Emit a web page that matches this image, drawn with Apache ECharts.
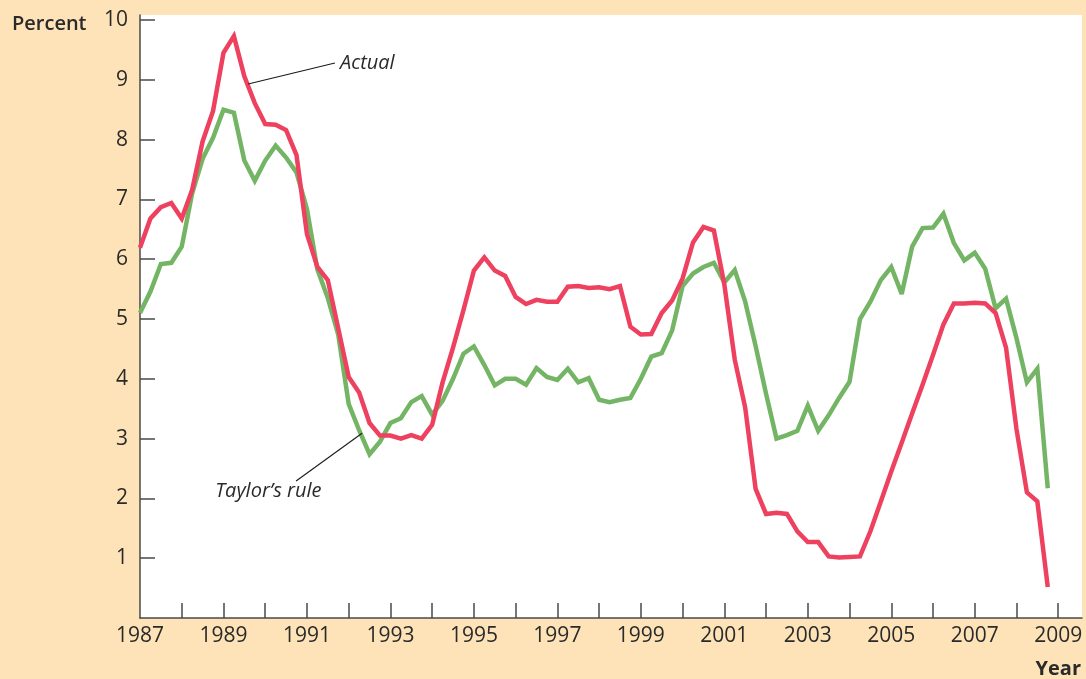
<!DOCTYPE html>
<html>
<head>
<meta charset="utf-8">
<title>Federal funds rate: actual vs. Taylor's rule</title>
<script src="https://cdn.jsdelivr.net/npm/echarts@6/dist/echarts.min.js"></script>
<style>
  html, body { margin: 0; padding: 0; background: #fde3b7; }
  #chart { width: 1086px; height: 679px; }
</style>
</head>
<body>
<div id="chart"></div>
<script>
// Quarterly observations, first quarter of 1987 through the last quarter of 2008
const startYear = 1987;

// Actual federal funds rate (percent)
const actualRate = [
  6.19, 6.68, 6.87, 6.94,   // 1987
  6.68, 7.16, 7.97, 8.48,   // 1988
  9.45, 9.73, 9.06, 8.61,   // 1989
  8.26, 8.25, 8.16, 7.74,   // 1990
  6.42, 5.87, 5.65, 4.84,   // 1991
  4.03, 3.77, 3.26, 3.05,   // 1992
  3.05, 3.00, 3.06, 3.00,   // 1993
  3.23, 3.94, 4.52, 5.15,   // 1994
  5.81, 6.03, 5.81, 5.72,   // 1995
  5.37, 5.25, 5.32, 5.29,   // 1996
  5.29, 5.54, 5.55, 5.52,   // 1997
  5.53, 5.50, 5.55, 4.87,   // 1998
  4.74, 4.75, 5.10, 5.31,   // 1999
  5.68, 6.28, 6.54, 6.48,   // 2000
  5.58, 4.32, 3.52, 2.16,   // 2001
  1.74, 1.76, 1.74, 1.45,   // 2002
  1.27, 1.27, 1.03, 1.01,   // 2003
  1.02, 1.03, 1.45, 1.95,   // 2004
  2.45, 2.93, 3.42, 3.90,   // 2005
  4.40, 4.91, 5.26, 5.26,   // 2006
  5.27, 5.26, 5.10, 4.52,   // 2007
  3.16, 2.10, 1.95, 0.52    // 2008
];

// Rate prescribed by Taylor's rule (percent)
const taylorRate = [
  5.10, 5.46, 5.92, 5.94,   // 1987
  6.21, 7.10, 7.68, 8.03,   // 1988
  8.50, 8.45, 7.65, 7.31,   // 1989
  7.65, 7.90, 7.70, 7.45,   // 1990
  6.84, 5.83, 5.35, 4.74,   // 1991
  3.58, 3.14, 2.74, 2.95,   // 1992
  3.26, 3.34, 3.61, 3.71,   // 1993
  3.40, 3.63, 4.00, 4.42,   // 1994
  4.54, 4.23, 3.89, 4.00,   // 1995
  4.00, 3.90, 4.18, 4.03,   // 1996
  3.98, 4.17, 3.94, 4.01,   // 1997
  3.65, 3.61, 3.65, 3.68,   // 1998
  4.00, 4.37, 4.43, 4.81,   // 1999
  5.55, 5.76, 5.87, 5.94,   // 2000
  5.61, 5.82, 5.29, 4.55,   // 2001
  3.75, 3.00, 3.06, 3.13,   // 2002
  3.55, 3.13, 3.39, 3.68,   // 2003
  3.95, 5.00, 5.29, 5.65,   // 2004
  5.87, 5.42, 6.21, 6.52,   // 2005
  6.53, 6.76, 6.27, 5.98,   // 2006
  6.11, 5.84, 5.18, 5.34,   // 2007
  4.68, 3.94, 4.17, 2.17    // 2008
];

// Axis ticks and labels
const yearTicks = [1988, 1989, 1990, 1991, 1992, 1993, 1994, 1995, 1996, 1997, 1998,
                   1999, 2000, 2001, 2002, 2003, 2004, 2005, 2006, 2007, 2008, 2009];
const yearLabels = [1987, 1989, 1991, 1993, 1995, 1997, 1999, 2001, 2003, 2005, 2007, 2009];
const percentTicks = [1, 2, 3, 4, 5, 6, 7, 8, 9, 10];

// Leader-line annotations, in data coordinates [year, percent]
const actualNote = { text: 'Actual', line: [[1989.59, 8.93], [1991.67, 9.28]], at: [1991.79, 9.28] };
const taylorNote = { text: 'Taylor\u2019s rule', line: [[1990.74, 2.29], [1992.32, 3.09]], at: [1988.80, 2.12] };

const toPairs = vals => vals.map((v, i) => [startYear + i / 4, v]);

const axisColor = '#4a4a4a';
const textColor = '#2a2a2a';
const fontFamily = '"Open Sans", "Noto Sans", sans-serif';

const chart = echarts.init(document.getElementById('chart'), null, { renderer: 'canvas' });

function noteSeries(note) {
  return {
    type: 'line',
    data: [],
    silent: true,
    markLine: {
      silent: true,
      symbol: 'none',
      animation: false,
      label: { show: false },
      lineStyle: { color: '#1a1a1a', width: 1.1, type: 'solid' },
      data: [[{ coord: note.line[0] }, { coord: note.line[1] }]]
    },
    markPoint: {
      silent: true,
      symbol: 'rect',
      symbolSize: 0,
      animation: false,
      label: {
        show: true,
        position: 'right',
        distance: 0,
        formatter: note.text,
        fontFamily: fontFamily,
        fontStyle: 'italic',
        fontSize: 20,
        color: textColor
      },
      data: [{ coord: note.at }]
    }
  };
}

chart.setOption({
  animation: false,
  backgroundColor: '#fde3b7',
  grid: {
    left: 140, right: 4, top: 15, bottom: 61,
    show: true, backgroundColor: '#ffffff', borderWidth: 0
  },
  xAxis: {
    type: 'value',
    min: 1987,
    max: 2009.57,
    splitLine: { show: false },
    axisLine: { show: true, lineStyle: { color: axisColor, width: 1.5 } },
    axisTick: { show: true, inside: true, length: 15, customValues: yearTicks,
                lineStyle: { color: axisColor, width: 1.5 } },
    axisLabel: { show: true, customValues: yearLabels, margin: 8,
                 formatter: v => String(v),
                 fontFamily: fontFamily, fontSize: 21, color: textColor }
  },
  yAxis: {
    type: 'value',
    min: 0,
    max: 10.084,
    splitLine: { show: false },
    axisLine: { show: true, lineStyle: { color: axisColor, width: 1.5 } },
    axisTick: { show: true, inside: true, length: 15, customValues: percentTicks,
                lineStyle: { color: axisColor, width: 1.5 } },
    axisLabel: { show: true, customValues: percentTicks, margin: 12,
                 fontFamily: fontFamily, fontSize: 21, color: textColor }
  },
  graphic: [
    { type: 'text', left: 12, top: 14,
      style: { text: 'Percent', font: '600 20px ' + fontFamily, fill: textColor } },
    { type: 'text', right: 5, top: 659,
      style: { text: 'Year', font: '700 20px ' + fontFamily, fill: textColor } }
  ],
  series: [
    {
      name: 'Taylor\u2019s rule',
      type: 'line',
      data: toPairs(taylorRate),
      showSymbol: false,
      lineStyle: { color: '#74b565', width: 4.5, join: 'miter', miterLimit: 3 },
      z: 2
    },
    {
      name: 'Actual',
      type: 'line',
      data: toPairs(actualRate),
      showSymbol: false,
      lineStyle: { color: '#ee405f', width: 4.5, join: 'miter', miterLimit: 3 },
      z: 3
    },
    noteSeries(actualNote),
    noteSeries(taylorNote)
  ]
});
</script>
</body>
</html>
